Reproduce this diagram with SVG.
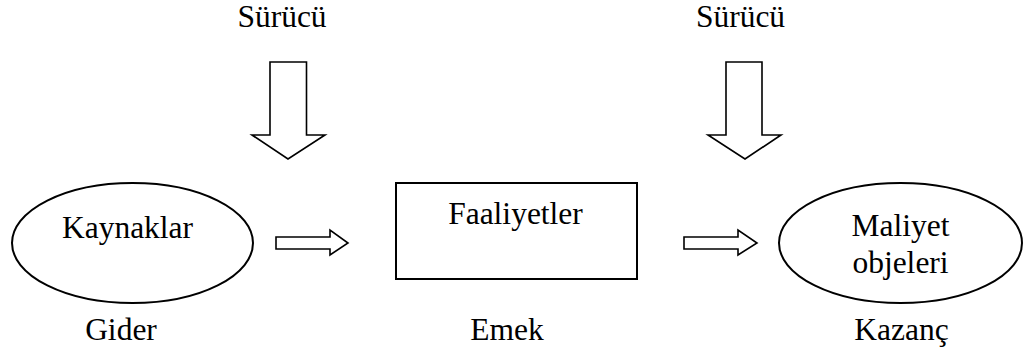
<svg xmlns="http://www.w3.org/2000/svg" width="1027" height="354" viewBox="0 0 1027 354">
  <style>
    text { font-family: "Liberation Serif", "Times New Roman", serif; font-size: 31.5px; fill: #000; text-anchor: middle; }
    .shape { fill: #fff; stroke: #000; stroke-width: 2; }
    .arrow { fill: #fff; stroke: #000; stroke-width: 1.6; stroke-linejoin: miter; }
  </style>
  <rect width="1027" height="354" fill="#fff"/>

  <!-- driver labels -->
  <text x="282" y="27">Sürücü</text>
  <text x="740.5" y="27">Sürücü</text>

  <!-- block arrows between nodes -->
  <g id="connectors">
    <path class="arrow" d="M270,62 H306.5 V135 H325 L288,159 L252,135 H270 Z"/>
    <path class="arrow" d="M726,62 H762 V135 H781 L745,159 L708,135 H726 Z"/>
    <path class="arrow" d="M276,237 H330 V230 L348,243 L330,255 V249 H276 Z"/>
    <path class="arrow" d="M684,237 H738 V230 L757,243 L738,255 V249 H684 Z"/>
  </g>

  <g id="kaynaklar">
    <ellipse class="shape" cx="132.5" cy="243" rx="120.5" ry="60"/>
    <text x="127.5" y="238">Kaynaklar</text>
    <text x="121" y="340">Gider</text>
  </g>

  <g id="faaliyetler">
    <rect class="shape" x="396" y="183" width="241" height="96"/>
    <text x="515.5" y="224">Faaliyetler</text>
    <text x="507" y="340">Emek</text>
  </g>

  <g id="maliyet-objeleri">
    <ellipse class="shape" cx="900.5" cy="243" rx="121.5" ry="60"/>
    <text x="900.5" y="236">Maliyet</text>
    <text x="900.5" y="273">objeleri</text>
    <text x="901.5" y="340">Kazanç</text>
  </g>
</svg>
